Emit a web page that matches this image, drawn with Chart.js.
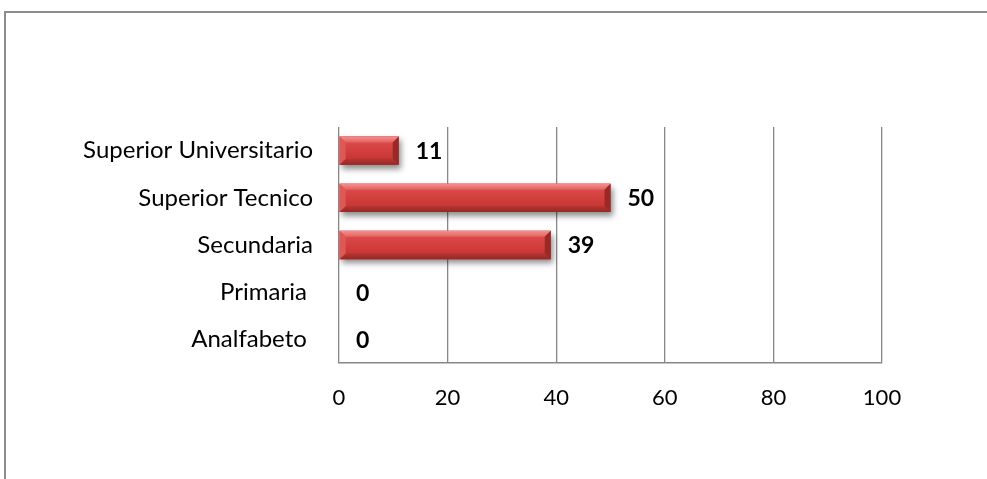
<!DOCTYPE html>
<html>
<head>
<meta charset="utf-8">
<script src="https://cdn.jsdelivr.net/npm/chart.js@4/dist/chart.umd.min.js"></script>
<style>
  html, body { margin: 0; padding: 0; background: #ffffff; overflow: hidden; }
  #wrap { position: relative; width: 987px; height: 479px; }
  #frame {
    position: absolute; left: 4px; top: 11px; width: 1100px; height: 600px;
    border: 2px solid #8c8c8c; box-sizing: border-box; pointer-events: none;
  }
  #c { position: absolute; left: 0; top: 0; }
</style>
</head>
<body>
<div id="wrap">
  <div id="frame"></div>
  <canvas id="c" width="987" height="479"></canvas>
</div>
<script>
// Nivel educativo: categorías, valores y marcas del eje
const categories = ['Superior Universitario', 'Superior Tecnico', 'Secundaria', 'Primaria ', 'Analfabeto '];
const values = [11, 50, 39, 0, 0];
const xTicks = [0, 20, 40, 60, 80, 100];

const FONT = 'Lato, "Open Sans", sans-serif';
const GRID = '#878787';

// Sombra suave bajo las barras
const barShadow = {
  id: 'barShadow',
  beforeDatasetDraw(chart) {
    const ctx = chart.ctx;
    ctx.save();
    ctx.shadowColor = 'rgba(0,0,0,0.45)';
    ctx.shadowBlur = 6;
    ctx.shadowOffsetX = 2;
    ctx.shadowOffsetY = 4;
  },
  afterDatasetDraw(chart) {
    chart.ctx.restore();
  }
};

// Relieve biselado sobre cada barra
const barBevel = {
  id: 'barBevel',
  afterDatasetsDraw(chart) {
    const ctx = chart.ctx;
    const meta = chart.getDatasetMeta(0);
    meta.data.forEach((el) => {
      const p = el.getProps(['x', 'y', 'base', 'height'], true);
      const x0 = Math.min(p.base, p.x), x1 = Math.max(p.base, p.x);
      const w = x1 - x0;
      if (w < 1) return;
      const t = p.y - p.height / 2, b = p.y + p.height / 2;
      const bv = Math.min(6, w / 2, p.height / 3);
      ctx.save();
      // cara principal
      const g = ctx.createLinearGradient(0, t, 0, b);
      g.addColorStop(0, '#e0514f');
      g.addColorStop(0.5, '#d2403e');
      g.addColorStop(1, '#c0302e');
      ctx.fillStyle = g;
      ctx.fillRect(x0, t, w, b - t);
      // bisel superior
      const gt = ctx.createLinearGradient(0, t, 0, t + bv);
      gt.addColorStop(0, '#f29290');
      gt.addColorStop(1, '#e4615f');
      ctx.fillStyle = gt;
      ctx.beginPath();
      ctx.moveTo(x0, t); ctx.lineTo(x1, t); ctx.lineTo(x1 - bv, t + bv); ctx.lineTo(x0 + bv, t + bv);
      ctx.closePath(); ctx.fill();
      // bisel inferior
      const gb = ctx.createLinearGradient(0, b - bv, 0, b);
      gb.addColorStop(0, '#b83533');
      gb.addColorStop(1, '#962826');
      ctx.fillStyle = gb;
      ctx.beginPath();
      ctx.moveTo(x0, b); ctx.lineTo(x1, b); ctx.lineTo(x1 - bv, b - bv); ctx.lineTo(x0 + bv, b - bv);
      ctx.closePath(); ctx.fill();
      // bisel izquierdo
      ctx.fillStyle = '#dd5957';
      ctx.beginPath();
      ctx.moveTo(x0, t); ctx.lineTo(x0 + bv, t + bv); ctx.lineTo(x0 + bv, b - bv); ctx.lineTo(x0, b);
      ctx.closePath(); ctx.fill();
      // bisel derecho
      ctx.fillStyle = '#9c2826';
      ctx.beginPath();
      ctx.moveTo(x1, t); ctx.lineTo(x1 - bv, t + bv); ctx.lineTo(x1 - bv, b - bv); ctx.lineTo(x1, b);
      ctx.closePath(); ctx.fill();
      ctx.restore();
    });
  }
};

// Etiquetas de valor junto al extremo de cada barra
const valueLabels = {
  id: 'valueLabels',
  afterDatasetsDraw(chart) {
    const ctx = chart.ctx;
    const meta = chart.getDatasetMeta(0);
    ctx.save();
    ctx.font = 'bold 23px ' + FONT;
    ctx.fillStyle = '#000000';
    ctx.textAlign = 'left';
    ctx.textBaseline = 'middle';
    meta.data.forEach((el, i) => {
      const p = el.getProps(['x', 'y'], true);
      ctx.fillText(String(values[i]), p.x + 17, p.y + 1);
    });
    ctx.restore();
  }
};

new Chart(document.getElementById('c'), {
  type: 'bar',
  data: {
    labels: categories,
    datasets: [{
      data: values,
      backgroundColor: '#d2403e',
      borderWidth: 0,
      barPercentage: 0.6,
      categoryPercentage: 1.0
    }]
  },
  options: {
    indexAxis: 'y',
    responsive: false,
    animation: false,
    events: [],
    layout: { padding: { top: 127, right: 105, bottom: 0, left: 0 } },
    plugins: { legend: { display: false }, tooltip: { enabled: false } },
    scales: {
      x: {
        min: xTicks[0],
        max: xTicks[xTicks.length - 1],
        afterBuildTicks(scale) { scale.ticks = xTicks.map(v => ({ value: v })); },
        afterFit(scale) { scale.height = 116; },
        grid: { color: GRID, lineWidth: 1.3, tickLength: 0, drawTicks: false },
        border: { display: true, color: GRID, width: 1.5 },
        ticks: { color: '#000000', font: { family: FONT, size: 22 }, padding: 22, maxRotation: 0 }
      },
      y: {
        afterFit(scale) { scale.width = 339; },
        grid: { display: false, drawTicks: false },
        border: { display: false },
        ticks: { color: '#000000', font: { family: FONT, size: 24 }, padding: 26 }
      }
    }
  },
  plugins: [barShadow, barBevel, valueLabels]
});
</script>
</body>
</html>
